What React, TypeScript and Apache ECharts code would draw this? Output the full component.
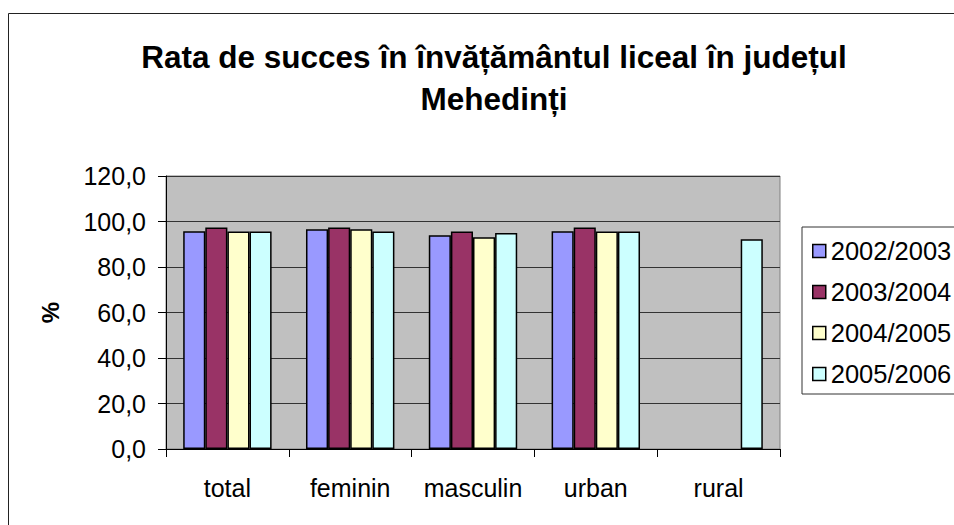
import React, { useEffect, useRef } from "react";
import * as echarts from "echarts";

const categories = ["total", "feminin", "masculin", "urban", "rural"];
const seriesNames = ["2002/2003", "2003/2004", "2004/2005", "2005/2006"];
const values2002 = [95.7, 96.6, 94.0, 95.7, null];
const values2003 = [97.4, 97.4, 95.6, 97.4, null];
const values2004 = [95.6, 96.6, 93.1, 95.6, null];
const values2005 = [95.6, 95.6, 94.9, 95.6, 92.2];
const colors = ["#9999FF", "#993366", "#FFFFCC", "#CCFFFF"];
const titleLines = ["Rata de succes în învățământul liceal în județul", "Mehedinți"];
const yAxisName = "%";

const FONT = "'Liberation Sans', Arial, sans-serif";

export default function App() {
  const ref = useRef<HTMLDivElement>(null);
  useEffect(() => {
    document.body.style.margin = "0";
    document.body.style.overflow = "hidden";
    const chart = echarts.init(ref.current!, null, { renderer: "svg" });
    const allValues = [values2002, values2003, values2004, values2005];
    chart.setOption({
      animation: false,
      backgroundColor: "#ffffff",
      textStyle: { fontFamily: FONT, color: "#000" },
      title: {
        text: titleLines.join("\n"),
        left: 489,
        top: 31,
        textAlign: "center",
        textStyle: {
          fontFamily: FONT,
          fontSize: 31.5,
          fontWeight: "bold",
          color: "#000",
          lineHeight: 42,
        },
      },
      graphic: [
        {
          type: "rect",
          shape: { x: 8.5, y: 13.5, width: 1000, height: 600 },
          style: { fill: "none", stroke: "#222", lineWidth: 1 },
          silent: true,
          z: -10,
        },
      ],
      legend: {
        orient: "vertical",
        left: 802,
        top: 227,
        padding: [11, 14, 7, 10],
        itemWidth: 13,
        itemHeight: 13,
        itemGap: 15,
        icon: "rect",
        borderColor: "#333",
        borderWidth: 1,
        backgroundColor: "#fff",
        data: seriesNames,
        textStyle: { fontFamily: FONT, fontSize: 25.5, color: "#000" },
        itemStyle: { borderColor: "#000", borderWidth: 1.5 },
      },
      grid: {
        left: 166,
        top: 176,
        width: 614,
        height: 273,
        show: true,
        backgroundColor: "#C0C0C0",
        borderColor: "#808080",
        borderWidth: 1,
      },
      xAxis: {
        type: "category",
        data: categories,
        axisLine: { show: true, lineStyle: { color: "#000", width: 1 } },
        axisTick: { show: true, length: 8, alignWithLabel: false, interval: 0, lineStyle: { color: "#000" } },
        axisLabel: { fontFamily: FONT, fontSize: 25, color: "#000", margin: 26, interval: 0 },
      },
      yAxis: {
        type: "value",
        min: 0,
        max: 120,
        interval: 20,
        name: yAxisName,
        nameLocation: "middle",
        nameGap: 104,
        nameRotate: 90,
        nameTextStyle: { fontFamily: FONT, fontSize: 24, fontWeight: "bold", color: "#000" },
        axisLine: { show: true, lineStyle: { color: "#000", width: 1 } },
        axisTick: { show: true, length: 8, lineStyle: { color: "#000" } },
        axisLabel: {
          fontFamily: FONT,
          fontSize: 25,
          color: "#000",
          margin: 20,
          formatter: (v: number) => v.toFixed(1).replace(".", ","),
        },
        splitLine: { show: true, lineStyle: { color: "#333", width: 1 } },
      },
      series: seriesNames.map((name, i) => ({
        name,
        type: "bar",
        data: allValues[i].map((v) => (v === null ? "-" : v)),
        barGap: "0%",
        barCategoryGap: "28%",
        itemStyle: { color: colors[i], borderColor: "#000", borderWidth: 1.5 },
      })),
    });
    return () => chart.dispose();
  }, []);
  return <div ref={ref} style={{ width: 954, height: 525 }} />;
}
